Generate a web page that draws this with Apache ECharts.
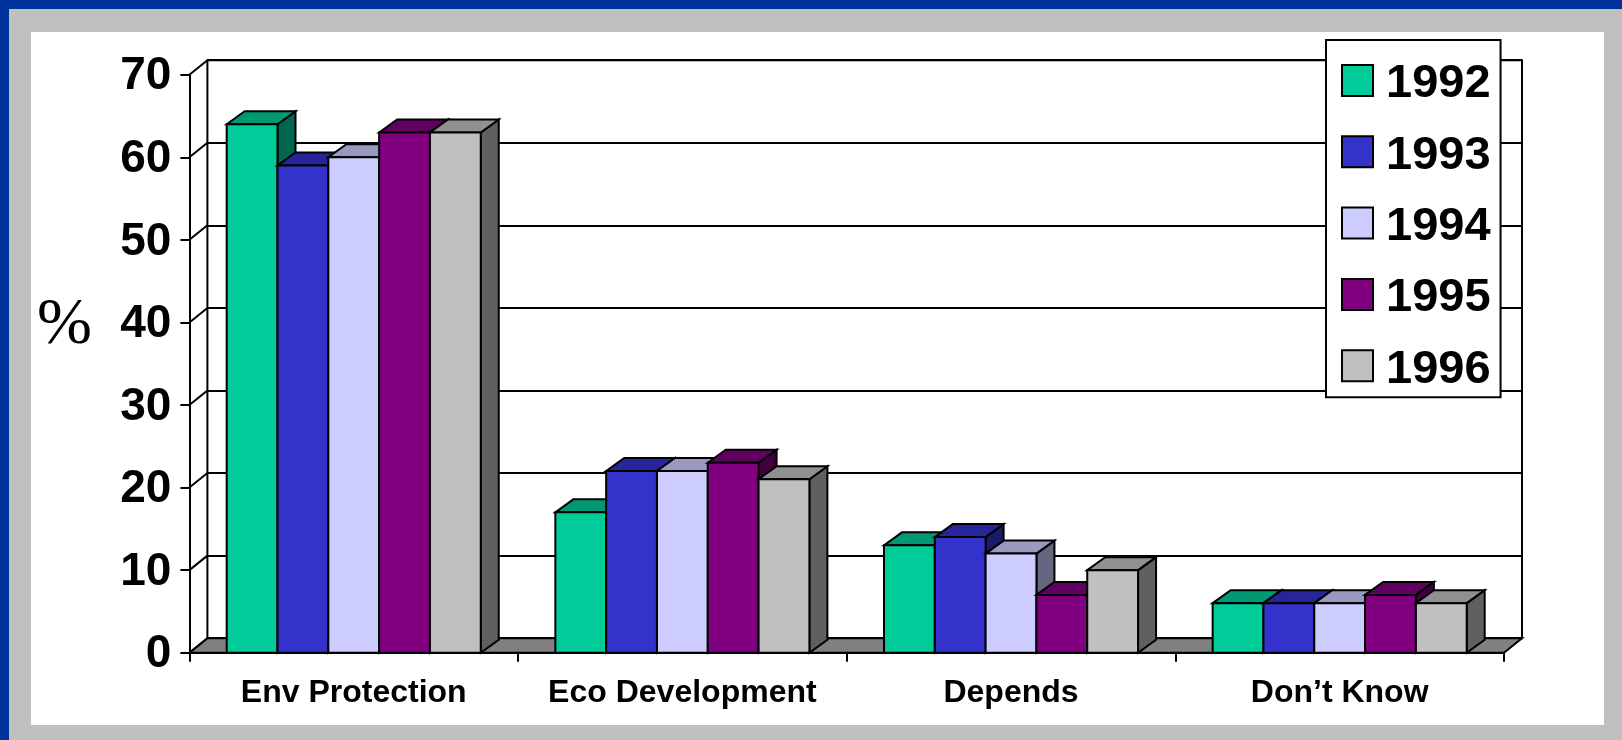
<!DOCTYPE html>
<html>
<head>
<meta charset="utf-8">
<style>
html,body{margin:0;padding:0;background:#003399;width:1622px;height:740px;overflow:hidden}
#gray{position:absolute;left:9px;top:9px;width:1613px;height:731px;background:#C0C0C0}
#white{position:absolute;left:31px;top:32px;width:1573px;height:693px;background:#fff}
#chart{position:absolute;left:0;top:0;width:1622px;height:740px}
</style>
<script src="https://cdn.jsdelivr.net/npm/echarts@6/dist/echarts.min.js"></script>
</head>
<body>
<div id="gray"></div><div id="white"></div><div id="chart"></div>
<script>
const categories = ['Env Protection', 'Eco Development', 'Depends', 'Don\u2019t Know'];
const years = ['1992', '1993', '1994', '1995', '1996'];
const values1992 = [64, 17, 13, 6];
const values1993 = [59, 22, 14, 6];
const values1994 = [60, 22, 12, 6];
const values1995 = [63, 23, 7, 7];
const values1996 = [63, 21, 10, 6];
const yTicks = [0, 10, 20, 30, 40, 50, 60, 70];

const allValues = [values1992, values1993, values1994, values1995, values1996];
const frontColors = ['#00CC99', '#3333CC', '#CCCCFF', '#800080', '#C0C0C0'];
const topColors = ['#009973', '#262699', '#9999BF', '#600060', '#909090'];
const sideColors = ['#006650', '#1A1A66', '#666680', '#400040', '#606060'];
const FONT = '"Liberation Sans", Arial, sans-serif';
const GROUP_FRAC = 0.773, BAR_DX = 18, BAR_DY = 13, WALL_DX = 18, WALL_DY = 14.5;
const LW = 2;
const STROKE = { stroke: '#000', lineWidth: LW, lineJoin: 'miter' };

const chart = echarts.init(document.getElementById('chart'), null, { renderer: 'canvas' });

function barItem(si) {
  return function (params, api) {
    const c = api.value(0), v = api.value(1);
    const pt = api.coord([c, v]), base = api.coord([c, 0]);
    const bw = api.size([1, 0])[0] * GROUP_FRAC / years.length;
    const x0 = pt[0] + (si - years.length / 2) * bw, x1 = x0 + bw;
    const yt = pt[1], yb = base[1];
    return {
      type: 'group',
      children: [
        { type: 'polygon', shape: { points: [[x1, yt], [x1 + BAR_DX, yt - BAR_DY], [x1 + BAR_DX, yb - BAR_DY], [x1, yb]] },
          style: Object.assign({ fill: sideColors[si] }, STROKE) },
        { type: 'polygon', shape: { points: [[x0, yt], [x0 + BAR_DX, yt - BAR_DY], [x1 + BAR_DX, yt - BAR_DY], [x1, yt]] },
          style: Object.assign({ fill: topColors[si] }, STROKE) },
        { type: 'rect', shape: { x: x0, y: yt, width: bw, height: yb - yt },
          style: Object.assign({ fill: frontColors[si] }, STROKE) }
      ]
    };
  };
}

const barSeries = years.map((year, si) => ({
  name: year,
  type: 'custom',
  xAxisIndex: 0,
  yAxisIndex: 0,
  z: 3,
  itemStyle: { color: frontColors[si] },
  encode: { x: 0, y: 1 },
  data: allValues[si].map((v, i) => [i, v]),
  renderItem: barItem(si)
}));

const frameSeries = {
  name: 'frame',
  type: 'custom',
  xAxisIndex: 0,
  yAxisIndex: 0,
  z: 2,
  silent: true,
  encode: { y: 1 },
  data: yTicks.map(t => [0, t]),
  renderItem: function (params, api) {
    const cs = params.coordSys;
    const y = api.coord([0, api.value(1)])[1];
    const children = [{
      type: 'line',
      shape: { x1: cs.x, y1: y, x2: cs.x + WALL_DX, y2: y - WALL_DY },
      style: { stroke: '#000', lineWidth: LW }
    }];
    if (api.value(1) === 0) {
      children.unshift({
        type: 'polygon',
        shape: { points: [[cs.x, y], [cs.x + WALL_DX, y - WALL_DY], [cs.x + cs.width + WALL_DX, y - WALL_DY], [cs.x + cs.width, y]] },
        style: { fill: '#808080', stroke: '#000', lineWidth: LW }
      });
    }
    return { type: 'group', children };
  }
};

chart.setOption({
  animation: false,
  backgroundColor: 'transparent',
  title: {
    text: '%', left: 32, top: 288,
    textStyle: { fontFamily: '"Liberation Serif", serif', fontWeight: 'normal', fontSize: 66, color: '#000' }
  },
  legend: {
    data: years,
    orient: 'vertical',
    left: 1326, top: 40,
    padding: [21, 10, 4, 15],
    itemWidth: 31, itemHeight: 31, itemGap: 24.3,
    backgroundColor: '#fff', borderColor: '#000', borderWidth: 2,
    icon: 'rect',
    itemStyle: { borderColor: '#000', borderWidth: 2 },
    formatter: '{y|{name}}',
    textStyle: {
      rich: { y: { fontFamily: FONT, fontWeight: 'bold', fontSize: 47, color: '#000', padding: [8, 0, 0, 8] } }
    }
  },
  grid: [
    { left: 189.4, top: 74.7, width: 1314.6, height: 578, containLabel: false },
    { left: 207.4, top: 60.2, width: 1314.6, height: 578, show: true, backgroundColor: '#fff', borderColor: '#000', borderWidth: LW }
  ],
  xAxis: [
    { type: 'category', gridIndex: 0, data: categories, boundaryGap: true,
      axisLine: { lineStyle: { color: '#000', width: LW } },
      axisTick: { show: true, length: 9, alignWithLabel: false, lineStyle: { color: '#000', width: LW } },
      axisLabel: { fontFamily: FONT, fontWeight: 'bold', fontSize: 32, color: '#000', margin: 24, interval: 0 } },
    { type: 'category', gridIndex: 1, data: categories, show: false }
  ],
  yAxis: [
    { type: 'value', gridIndex: 0, min: 0, max: 70, interval: 10,
      splitLine: { show: false },
      axisLine: { show: true, lineStyle: { color: '#000', width: LW } },
      axisTick: { show: true, length: 9, lineStyle: { color: '#000', width: LW } },
      axisLabel: { margin: 18, formatter: '{v|{value}}',
        rich: { v: { fontFamily: FONT, fontWeight: 'bold', fontSize: 46, color: '#000', padding: [4, 0, 0, 0] } } } },
    { type: 'value', gridIndex: 1, min: 0, max: 70, interval: 10,
      splitLine: { show: true, lineStyle: { color: '#000', width: LW } },
      axisLine: { show: false }, axisTick: { show: false }, axisLabel: { show: false } }
  ],
  series: [frameSeries].concat(barSeries)
});
</script>
</body>
</html>
